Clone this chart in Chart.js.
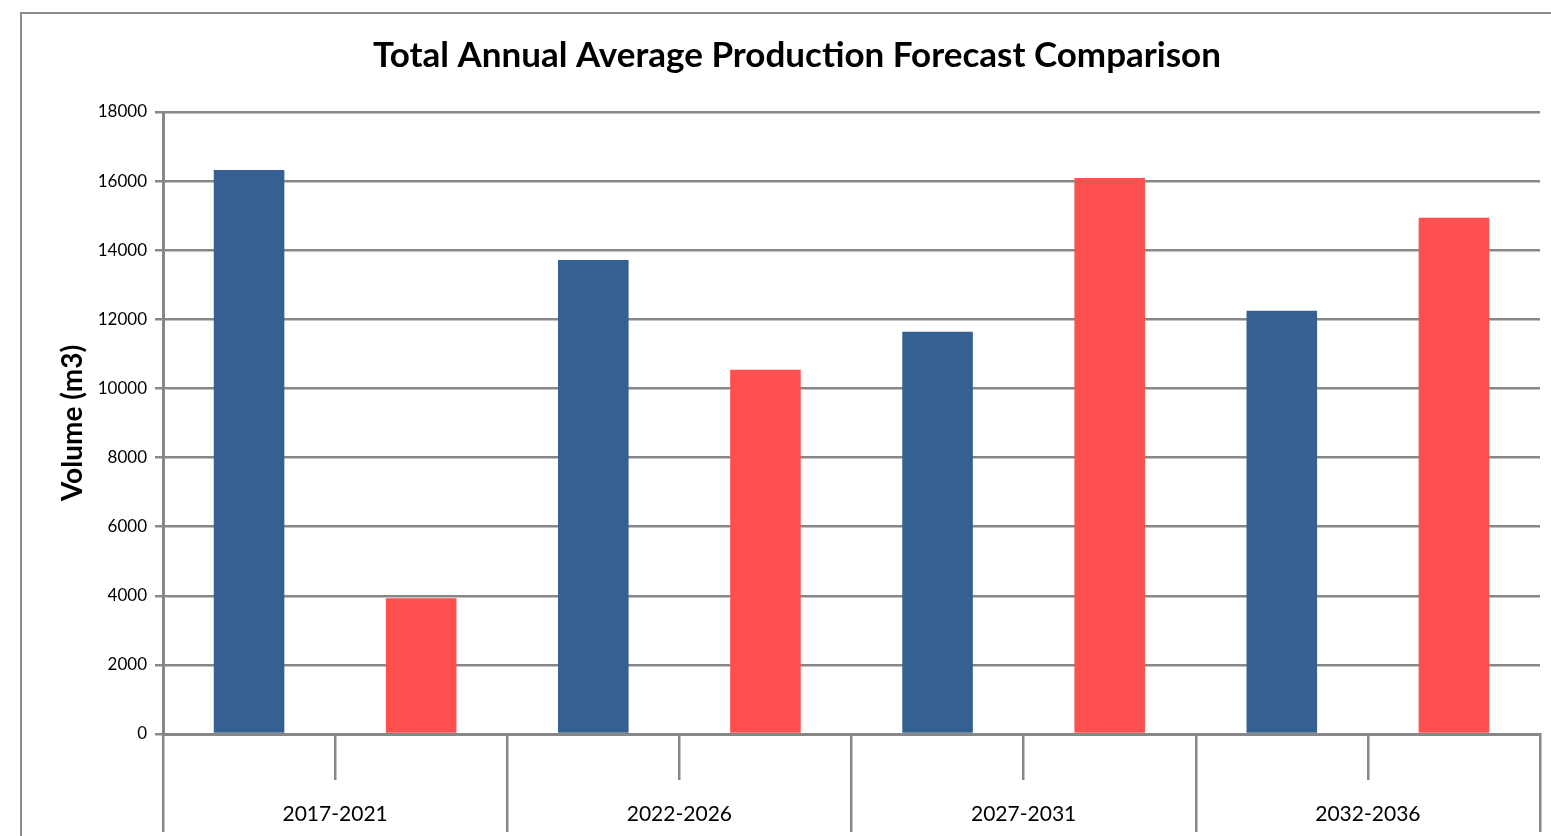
<!DOCTYPE html>
<html>
<head>
<meta charset="utf-8">
<script src="https://cdn.jsdelivr.net/npm/chart.js@4.4.1/dist/chart.umd.min.js"></script>
<style>
  html, body { margin: 0; padding: 0; background: #fff; overflow: hidden; }
  #wrap { position: relative; width: 1551px; height: 836px; }
  #frame { position: absolute; left: 20px; top: 12px; width: 1600px; height: 900px; border: 2px solid #8c8c8c; box-sizing: border-box; }
  canvas { position: absolute; left: 0; top: 0; }
</style>
</head>
<body>
<div id="wrap">
  <div id="frame"></div>
  <canvas id="myChart" width="1551" height="836"></canvas>
</div>
<script>
// periods on the outer axis level
var periods = ['2017-2021', '2022-2026', '2027-2031', '2032-2036'];
// the two forecasts, one value per period
var blueValues = [16320, 13720, 11640, 12250];
var redValues = [3930, 10540, 16090, 14940];
var yTicks = [0, 2000, 4000, 6000, 8000, 10000, 12000, 14000, 16000, 18000];

// each period has two slots, one per series
var labels = [];
var blueData = [];
var redData = [];
periods.map(function (p, i) {
    labels.push('', '');
    blueData.push(blueValues[i], null);
    redData.push(null, redValues[i]);
});

var gray = '#878787';
var font = "Lato, 'Open Sans', sans-serif";
var leftPad = 54;

const ctx = document.getElementById('myChart');
var myChart = new Chart(ctx, {
    type: 'bar',
    data: {
        labels: labels,
        datasets: [{
            label: 'Forecast A',
            data: blueData,
            backgroundColor: '#366092',
            grouped: false,
            barPercentage: 0.41,
            categoryPercentage: 1
        }, {
            label: 'Forecast B',
            data: redData,
            backgroundColor: '#FF5050',
            grouped: false,
            barPercentage: 0.41,
            categoryPercentage: 1
        }]
    },
    options: {
        responsive: false,
        animation: false,
        layout: { padding: { left: leftPad, right: 11, top: 0, bottom: 0 } },
        plugins: {
            legend: { display: false },
            tooltip: { enabled: false },
            title: {
                display: true,
                text: 'Total Annual Average Production Forecast Comparison',
                color: '#000',
                font: { family: font, size: 35, weight: 'bold' },
                padding: { top: 35, bottom: 35 }
            }
        },
        scales: {
            y: {
                min: 0,
                max: 18000,
                afterBuildTicks: function (scale) {
                    scale.ticks = yTicks.map(function (v) { return { value: v }; });
                },
                afterFit: function (scale) { scale.width = 163 - leftPad; },
                ticks: {
                    color: '#000',
                    font: { family: font, size: 17 },
                    padding: 8,
                    callback: function (v) { return String(v); }
                },
                grid: { color: gray, lineWidth: 2.5, tickLength: 8 },
                border: { color: gray, width: 3 },
                title: {
                    display: true,
                    text: 'Volume (m3)',
                    color: '#000',
                    font: { family: font, size: 28, weight: 'bold' },
                    padding: { top: 2, bottom: 0 }
                }
            },
            x: {
                z: 1,
                offset: true,
                afterFit: function (scale) { scale.height = 46; },
                ticks: { display: false },
                grid: { offset: true, drawOnChartArea: false, color: gray, lineWidth: 2.5, tickLength: 46 },
                border: { color: gray, width: 3 }
            },
            x2: {
                type: 'category',
                position: 'bottom',
                labels: periods,
                offset: true,
                afterFit: function (scale) { scale.height = 56; },
                ticks: {
                    color: '#000',
                    font: { family: font, size: 21 },
                    padding: -30
                },
                grid: { offset: true, drawOnChartArea: false, color: gray, lineWidth: 2.5, tickLength: 52 },
                border: { display: false }
            }
        }
    }
});
</script>
</body>
</html>
